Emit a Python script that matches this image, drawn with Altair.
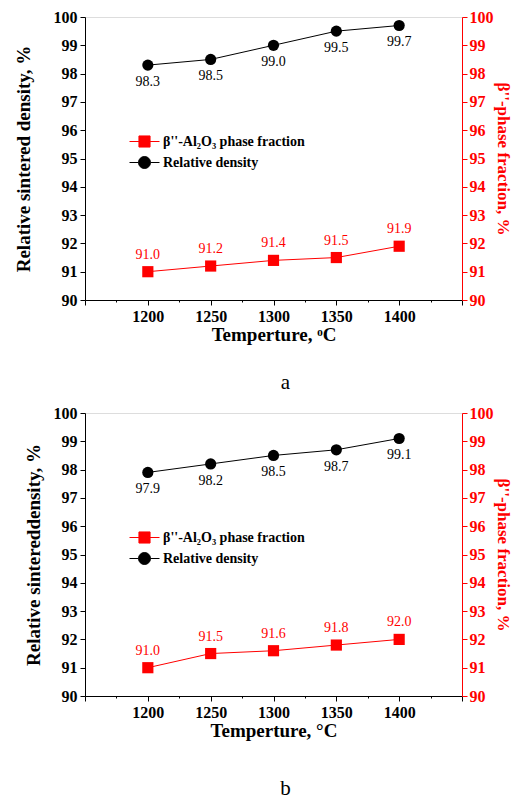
import altair as alt
import pandas as pd

# ---------------- data ----------------
temps = [1200, 1250, 1300, 1350, 1400]
density_a = [98.3, 98.5, 99.0, 99.5, 99.7]
phase_a = [91.0, 91.2, 91.4, 91.5, 91.9]
density_b = [97.9, 98.2, 98.5, 98.7, 99.1]
phase_b = [91.0, 91.5, 91.6, 91.8, 92.0]

x_ticks = [1150, 1175, 1200, 1225, 1250, 1275, 1300, 1325, 1350, 1375, 1400, 1425, 1450]
y_ticks = [90, 90.5, 91, 91.5, 92, 92.5, 93, 93.5, 94, 94.5, 95, 95.5,
           96, 96.5, 97, 97.5, 98, 98.5, 99, 99.5, 100]

series_phase = "β''-Al₂O₃ phase fraction"
series_density = "Relative density"

FONT = "Liberation Serif"
RED = "#ff0000"

SQUARE_PATH = "M-1,0H-0.37M0.37,0H1M-0.37,-0.37H0.37V0.37H-0.37Z"
CIRCLE_PATH = ("M-1,0H-0.4M0.4,0H1M-0.4,0A0.4,0.4,0,1,1,0.4,0"
               "A0.4,0.4,0,1,1,-0.4,0Z")


def x_axis(title):
    return alt.Axis(
        values=x_ticks,
        labelExpr="(datum.value % 50 === 0 && datum.value >= 1200 && datum.value <= 1400) ? datum.label : ''",
        format="d",
        tickSize={"condition": {"test": "datum.value % 50 !== 0", "value": 2}, "value": 5},
        grid=False, labelFont=FONT, labelFontSize=16, labelFontWeight="bold",
        labelColor="black", labelPadding=3, labelOverlap=False, labelFlush=False,
        title=title, titleFont=FONT, titleFontSize=19, titleFontWeight="bold",
        titleColor="black", titlePadding=1, domainColor="black", tickColor="black",
    )


def y_axis(orient, title, color, title_pad, title_size, label_pad):
    return alt.Axis(
        orient=orient, values=y_ticks,
        labelExpr="datum.value % 1 === 0 ? datum.label : ''",
        format="d",
        tickSize={"condition": {"test": "datum.value % 1 !== 0", "value": 2}, "value": 5},
        grid=False, labelFont=FONT, labelFontSize=16, labelFontWeight="bold",
        labelColor=color, labelPadding=label_pad, labelOverlap=False, labelFlush=False,
        title=title, titleFont=FONT, titleFontSize=title_size, titleFontWeight="bold",
        titleColor=color, titlePadding=title_pad, domainColor=color, tickColor=color,
    )


def panel(density, phase, left_title, x_title, label, label_offset, left_pad):
    df = pd.DataFrame({
        "T": temps,
        "density": density,
        "phase": phase,
        "dlab": [f"{v:.1f}" for v in density],
        "plab": [f"{v:.1f}" for v in phase],
    })
    base = alt.Chart(df)
    xs = alt.Scale(domain=[1150, 1450], nice=False, zero=False)
    ys = alt.Scale(domain=[90, 100], nice=False, zero=False)
    x = alt.X("T:Q", scale=xs, axis=x_axis(x_title))

    yl = alt.Y("density:Q", scale=ys, axis=y_axis("left", left_title, "black", left_pad, 19, 3))
    yr = alt.Y("phase:Q", scale=ys, axis=y_axis("right", "β''-phase fraction, %", RED, 0, 17, 2))

    def legend(y, path, color):
        return alt.Legend(
            orient="none", legendX=44, legendY=y, title=None, padding=0,
            symbolType=path, symbolSize=900, symbolStrokeWidth=1,
            symbolStrokeColor=color, symbolFillColor=color, symbolOpacity=1,
            labelFont=FONT, labelFontSize=14, labelFontWeight="bold",
            labelColor="black", labelOffset=3, labelLimit=400,
        )

    black = alt.layer(
        base.mark_line(color="black", strokeWidth=1).encode(x=x, y=yl),
        base.mark_point(filled=True, shape="circle", size=125, color="black", opacity=1).encode(x=x, y=yl),
        base.mark_text(font=FONT, fontSize=14, color="black", dy=17).encode(x=x, y=yl, text="dlab:N"),
        base.transform_filter("false").transform_calculate(s="'x'")
        .mark_point(filled=True, shape=CIRCLE_PATH, stroke="black", strokeWidth=1)
        .encode(x=x, y=yl, color=alt.Color(
            "s:N", scale=alt.Scale(domain=[series_density], range=["black"]),
            legend=legend(130, CIRCLE_PATH, "black"))),
    )
    red = alt.layer(
        base.mark_line(color=RED, strokeWidth=1).encode(x=x, y=yr),
        base.mark_point(filled=True, shape="square", size=125, color=RED, opacity=1).encode(x=x, y=yr),
        base.mark_text(font=FONT, fontSize=14, color=RED, dy=-17).encode(x=x, y=yr, text="plab:N"),
        base.transform_filter("false").transform_calculate(s="'x'")
        .mark_point(filled=True, shape=SQUARE_PATH, stroke=RED, strokeWidth=1)
        .encode(x=x, y=yr, color=alt.Color(
            "s:N", scale=alt.Scale(domain=[series_phase], range=[RED]),
            legend=legend(109, SQUARE_PATH, RED))),
    )
    return alt.layer(black, red).resolve_scale(y="independent", color="independent").properties(
        width=377, height=283,
        title=alt.TitleParams(label, orient="bottom", anchor="middle", frame="group",
                              offset=label_offset, dx=12, font=FONT, fontSize=21,
                              fontWeight="normal", color="black"),
    )


pa = panel(density_a, phase_a, "Relative sintered density, %", "Temperture, ᵒC", "a", 28, 20)
pb = panel(density_b, phase_b, "Relative sintereddensity, %", "Temperture, °C", "b", 38, 10)

chart = alt.vconcat(pa, pb, spacing=10).properties(
    padding={"left": 5, "top": 0, "right": 0, "bottom": 0}
).configure_view(stroke="black", strokeWidth=1).configure(background="white")

chart.save("out.html", embed_options={"renderer": "svg", "actions": False})
